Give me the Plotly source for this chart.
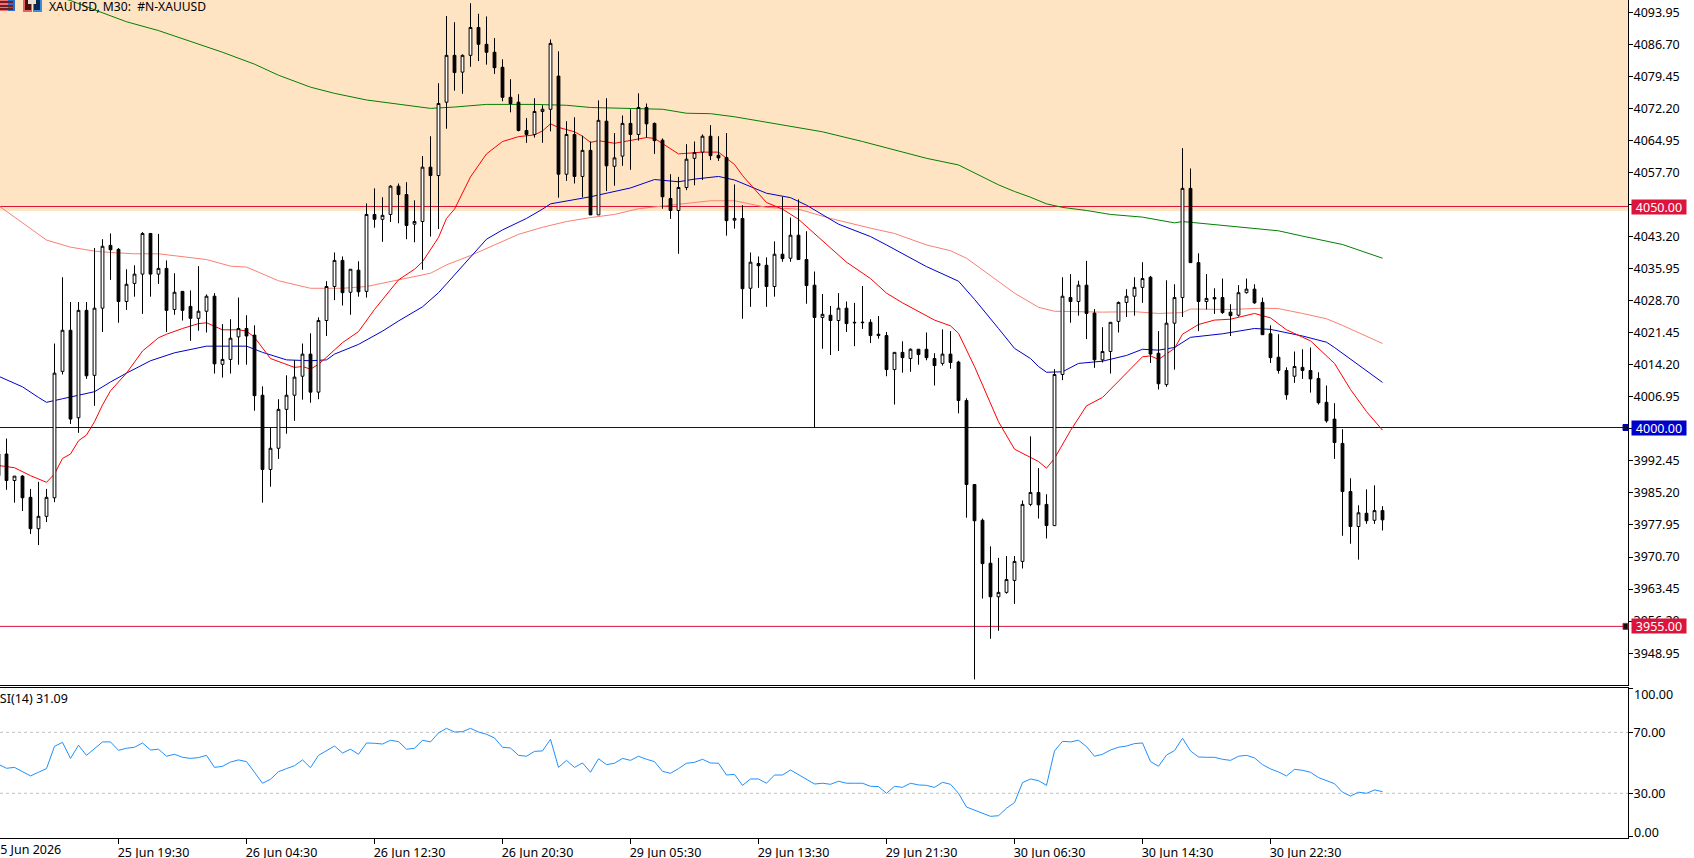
import plotly.graph_objects as go

# ---- XAUUSD M30 candles, one entry per bar starting at bar -1 ----
opens = [3994.0,3994.0,3988.0,3989.0,3984.2,3977.1,3979.9,3984.1,4012.7,4022.0,4002.2,4026.5,4011.8,4027.0,4041.2,4040.3,4028.5,4032.6,4034.7,4043.9,
4034.7,4036.0,4026.7,4030.8,4027.4,4024.7,4026.3,4029.7,4014.3,4015.4,4020.5,4022.4,4020.9,4007.3,3990.5,3995.3,4004.1,4007.3,4011.6,4016.6,
4008.0,4024.2,4031.9,4037.8,4030.6,4035.6,4030.8,4048.2,4047.1,4048.2,4054.6,4052.7,4046.0,4046.6,4058.9,4057.0,4073.6,4084.2,4080.4,4084.2,
4090.5,4086.7,4084.9,4081.5,4074.7,4073.6,4067.2,4066.3,4071.5,4072.0,4079.5,4057.3,4066.3,4056.8,4062.7,4048.1,4069.3,4059.1,4061.4,4068.8,
4066.3,4072.4,4068.8,4065.0,4051.8,4049.1,4054.3,4060.9,4062.3,4065.9,4061.6,4061.1,4046.9,4047.3,4031.5,4037.1,4036.7,4031.9,4039.2,4038.3,
4043.5,4038.0,4032.2,4024.9,4025.4,4024.2,4027.0,4023.8,4023.7,4023.8,4021.1,4020.8,4013.1,4017.0,4015.6,4017.7,4017.7,4015.6,4014.5,4016.6,
4014.8,4006.1,3987.1,3979.0,3969.3,3961.7,3962.7,3965.4,3969.7,3982.6,3985.3,3982.6,3977.8,4012.0,4029.4,4028.5,4032.2,4025.9,4015.3,4017.2,
4024.0,4028.3,4029.7,4031.7,4034.0,4016.8,4009.7,4023.6,4029.4,4054.1,4037.3,4028.5,4029.4,4029.4,4026.1,4025.4,4030.5,4031.3,4028.3,4021.2,
4015.9,4012.9,4011.6,4013.6,4012.9,4011.1,4005.7,4001.9,3996.4,3985.5,3977.6,3980.6,3979.0,3981.2]
highs = [3994.5,3997.5,3989.0,3989.2,3986.1,3987.7,3986.1,4019.0,4034.0,4028.4,4028.4,4028.4,4040.6,4042.6,4043.9,4040.6,4035.8,4036.7,4044.2,4043.9,
4043.8,4037.8,4034.9,4030.8,4031.0,4036.5,4030.1,4030.4,4023.4,4024.5,4029.4,4025.4,4023.1,4009.3,4000.0,4006.4,4011.8,4015.2,4019.0,4021.3,
4024.9,4033.1,4039.6,4038.7,4035.8,4037.6,4050.7,4054.1,4052.1,4054.8,4055.2,4055.5,4051.4,4061.4,4065.9,4077.9,4093.1,4091.7,4084.4,4096.0,
4093.6,4093.0,4088.1,4083.3,4078.8,4075.4,4070.0,4074.5,4072.9,4087.8,4085.1,4069.3,4070.2,4066.0,4064.7,4074.0,4074.5,4066.6,4070.6,4072.0,
4075.6,4073.3,4069.0,4065.4,4057.3,4056.7,4064.1,4064.7,4066.3,4068.4,4065.9,4066.6,4055.0,4050.3,4039.6,4038.7,4038.5,4042.1,4052.2,4047.5,
4051.6,4044.4,4035.3,4030.2,4027.5,4030.4,4028.5,4028.2,4032.0,4024.5,4025.2,4021.6,4017.0,4019.5,4017.9,4017.7,4021.5,4016.8,4022.2,4021.8,
4015.1,4006.6,3987.1,3979.4,3973.1,3970.5,3970.9,3970.9,3983.5,3998.0,3990.8,3984.9,4013.2,4034.0,4034.7,4033.2,4037.7,4026.8,4022.7,4023.8,
4028.5,4031.3,4034.0,4037.4,4034.3,4021.8,4033.3,4032.4,4063.2,4058.6,4039.4,4034.7,4031.5,4033.7,4027.9,4032.2,4033.7,4032.4,4029.4,4023.1,
4021.1,4013.6,4017.2,4017.7,4018.1,4012.5,4009.5,4005.5,3999.6,3988.5,3982.4,3986.0,3986.9,3982.2]
lows = [3988.5,3985.9,3983.0,3981.1,3975.9,3973.4,3978.6,3983.1,4012.0,4000.8,3998.8,4011.0,4004.9,4021.6,4033.4,4023.7,4026.6,4029.6,4025.7,4029.6,
4032.5,4021.6,4025.5,4024.2,4019.6,4021.9,4021.5,4012.2,4011.3,4012.2,4014.2,4014.2,4003.8,3983.0,3986.6,3992.9,3998.6,4001.5,4006.3,4005.6,
4006.4,4020.7,4028.8,4027.6,4025.5,4029.6,4029.4,4045.2,4042.0,4046.5,4046.2,4042.6,4041.9,4035.7,4043.2,4044.9,4067.6,4076.2,4075.5,4081.6,
4082.9,4082.1,4080.0,4073.8,4071.3,4067.0,4064.4,4065.6,4064.4,4067.0,4052.0,4055.8,4055.2,4052.1,4048.1,4048.1,4053.5,4054.7,4059.2,4058.3,
4064.9,4065.6,4061.9,4049.5,4047.2,4039.3,4053.7,4054.8,4056.0,4060.5,4060.3,4043.4,4045.0,4024.6,4027.3,4031.6,4027.3,4029.6,4037.5,4037.5,
4038.0,4028.0,4000.0,4017.8,4016.4,4017.3,4021.6,4018.4,4022.3,4019.1,4020.1,4011.6,4005.2,4012.4,4012.6,4014.2,4015.2,4009.5,4014.0,4013.3,
4003.2,3979.6,3943.0,3961.3,3952.2,3954.0,3962.4,3960.1,3968.1,3982.2,3979.4,3974.9,3977.8,4010.7,4023.7,4025.3,4020.0,4013.5,4014.7,4012.2,
4021.5,4025.0,4025.3,4028.2,4014.6,4008.6,4009.2,4013.1,4025.0,4037.3,4021.8,4026.7,4025.7,4025.7,4020.7,4025.1,4030.3,4028.0,4021.0,4014.6,
4012.2,4006.3,4010.1,4011.0,4007.9,4005.2,4001.1,3992.9,3975.5,3973.7,3970.1,3978.2,3978.2,3976.7]
closes = [3989.1,3988.0,3989.0,3984.1,3977.1,3979.9,3984.2,4012.3,4022.0,4001.9,4026.5,4011.7,4027.0,4041.0,4040.2,4028.5,4032.4,4034.7,4043.9,4034.7,
4036.0,4026.5,4030.6,4026.5,4024.7,4026.3,4029.7,4014.4,4015.4,4020.2,4022.4,4020.7,4007.2,3990.5,3995.3,4004.1,4007.3,4011.4,4016.6,4008.0,
4024.2,4031.9,4037.8,4030.5,4035.8,4030.7,4048.2,4047.1,4048.0,4054.6,4052.7,4045.7,4046.6,4058.9,4057.0,4073.3,4084.2,4080.3,4084.2,4090.5,
4086.7,4084.9,4081.4,4074.7,4073.3,4067.2,4066.3,4071.5,4072.0,4086.9,4057.3,4066.3,4056.8,4062.7,4048.1,4069.5,4059.2,4061.0,4068.8,4066.3,
4072.4,4068.7,4064.9,4052.2,4049.1,4054.3,4060.7,4062.2,4065.9,4061.5,4061.0,4046.8,4047.3,4031.4,4037.4,4036.6,4031.9,4039.2,4038.2,4043.5,
4038.0,4032.1,4024.9,4025.6,4024.2,4027.0,4023.5,4023.7,4023.8,4020.8,4020.8,4013.1,4017.0,4015.8,4017.7,4016.5,4015.8,4014.0,4016.6,4014.7,
4006.1,3987.1,3978.9,3969.2,3961.7,3962.7,3965.6,3969.7,3982.6,3985.3,3982.5,3977.8,4012.0,4029.7,4028.5,4032.2,4025.8,4015.3,4017.2,4023.8,
4028.3,4029.7,4031.7,4033.7,4016.6,4009.9,4023.6,4029.4,4054.1,4037.3,4028.5,4029.2,4029.1,4026.0,4025.3,4030.5,4031.3,4028.2,4021.0,4015.8,
4012.9,4007.4,4013.8,4012.9,4011.0,4005.6,4001.5,3996.6,3985.5,3977.6,3980.7,3978.9,3981.2,3979.1]
bars = list(range(-1, len(opens) - 1))

# ---- moving averages, sampled at selected bars ----
ma20_bars = [-1,1,3,5,6,7,8,9,10,11,12,13,15,17,19,20,22,24,25,27,29,30,31,32,33,36,37,38,39,40,42,44,46,49,51,52,53,54,55,56,58,60,62,64,66,67,68,69,71,72,73,74,76,78,80,81,83,84,87,89,91,92,95,97,99,102,105,108,110,112,116,118,119,121,122,123,124,126,128,129,130,131,133,135,137,138,139,142,143,144,146,147,149,151,153,156,158,160,163,166,168,170,172]
ma20 = [3991.4,3990.9,3989.1,3987.6,3989.5,3993.0,3994.0,3997.0,3998.3,4001.3,4005.1,4008.3,4012.3,4017.3,4020.3,4021.1,4022.4,4023.5,4023.7,4022.1,4022.1,4021.8,4020.4,4018.1,4015.6,4013.6,4013.8,4013.2,4014.3,4015.9,4019.2,4021.7,4026.7,4033.4,4035.8,4037.5,4040.2,4043.0,4047.3,4049.4,4056.7,4061.9,4064.7,4065.8,4066.2,4067.1,4068.7,4067.9,4066.9,4065.9,4064.5,4064.9,4064.3,4064.9,4065.6,4065.4,4063.2,4061.9,4062.3,4062.3,4059.5,4057.0,4050.9,4049.4,4047.1,4042.3,4037.4,4033.7,4030.4,4028.2,4024.3,4023.0,4021.3,4013.8,4009.6,4005.1,4001.3,3995.1,3993.2,3992.3,3990.8,3993.0,3999.3,4004.9,4006.8,4008.6,4010.4,4016.0,4016.2,4015.4,4017.9,4021.1,4023.3,4024.3,4024.5,4025.8,4024.8,4022.1,4019.6,4014.5,4008.6,4003.6,3999.4]

ma50_bars = [-1,2,4,5,7,9,11,13,15,18,21,25,30,32,35,38,40,41,44,47,49,52,54,55,57,60,62,65,67,68,73,78,81,84,86,89,91,95,98,100,104,108,110,115,119,121,124,126,128,129,130,132,134,137,140,142,144,146,148,152,156,158,162,165,166,169,172]
ma50 = [4011.6,4009.2,4006.8,4005.7,4006.5,4007.3,4008.1,4010.3,4012.3,4015.1,4016.9,4018.4,4018.4,4017.0,4015.3,4015.1,4015.3,4016.6,4018.8,4021.8,4024.1,4027.3,4030.5,4032.5,4036.6,4042.6,4044.7,4047.3,4049.4,4050.6,4052.2,4054.2,4056.1,4055.6,4056.2,4056.8,4056.0,4053.0,4052.0,4050.3,4046.0,4043.2,4041.3,4036.4,4033.1,4029.0,4022.4,4017.9,4015.6,4013.8,4012.5,4012.6,4014.5,4015.0,4016.3,4017.7,4017.5,4018.1,4020.4,4021.2,4022.4,4022.2,4020.7,4019.3,4018.1,4014.1,4010.2]

ma100_bars = [-1,2,5,8,11,13,16,19,22,25,28,30,34,38,42,45,49,53,55,58,61,64,67,70,73,76,79,82,85,88,91,95,99,103,108,111,115,118,120,123,126,129,131,137,141,144,147,148,153,157,159,162,165,167,172]
ma100 = [4050.2,4046.3,4042.4,4040.8,4039.9,4039.6,4039.3,4039.3,4038.6,4038.0,4036.5,4036.3,4033.2,4031.5,4031.5,4031.9,4033.4,4034.9,4036.8,4038.9,4041.3,4043.7,4045.3,4046.6,4047.5,4048.2,4049.5,4050.1,4050.7,4051.3,4051.3,4049.8,4049.4,4047.3,4045.1,4043.9,4041.3,4040.0,4038.3,4034.3,4030.4,4027.2,4026.3,4026.1,4026.2,4025.8,4026.0,4026.8,4026.7,4027.0,4026.9,4025.8,4024.6,4023.1,4019.0]

ma200_bars = [7,8,11,15,19,24,27,31,34,38,41,45,49,53,56,60,66,70,73,78,82,85,88,91,95,98,102,107,111,115,119,121,124,126,128,130,132,135,138,142,146,147,152,155,159,162,167,172]
ma200 = [4097.1,4096.6,4094.5,4091.8,4089.8,4086.8,4084.9,4082.2,4079.7,4077.0,4075.6,4074.1,4073.2,4072.2,4072.5,4073.1,4073.1,4072.9,4072.4,4072.1,4072.0,4071.1,4071.0,4070.3,4069.1,4068.1,4066.9,4064.7,4062.8,4060.9,4059.4,4057.6,4054.9,4053.4,4052.1,4050.6,4049.8,4049.1,4048.2,4047.6,4046.3,4046.6,4045.7,4045.3,4044.5,4043.3,4041.4,4038.3]

# ---- RSI(14), one value per bar ----
rsi = [49.0,46.4,47.0,44.2,41.4,43.8,46.2,60.8,63.4,52.9,61.5,54.9,59.3,63.7,63.7,58.2,59.5,60.2,63.0,58.4,
58.9,54.3,55.6,53.6,52.9,53.4,54.9,47.0,47.7,50.5,51.9,50.8,43.8,36.6,39.2,44.2,46.2,48.1,51.9,46.8,
54.9,58.0,61.0,56.4,58.9,55.6,63.0,62.8,62.3,64.8,63.9,58.9,59.5,64.8,63.7,69.6,72.6,70.2,70.4,72.6,
70.2,68.7,66.3,60.2,59.7,54.9,54.3,57.5,57.8,65.4,47.0,51.6,47.0,49.9,43.8,52.7,48.8,49.7,52.9,51.6,
54.3,52.3,50.8,44.4,43.1,46.2,49.7,50.3,52.3,49.9,49.7,42.0,42.4,35.2,39.4,39.4,36.6,42.0,42.0,45.3,
42.4,39.4,36.1,36.6,35.9,37.9,36.6,36.6,36.6,34.6,34.4,30.0,34.6,33.9,36.6,35.5,35.2,33.9,37.2,35.9,
30.0,21.0,19.1,16.9,14.9,15.3,20.2,23.9,37.0,39.4,38.3,35.2,57.8,64.1,63.7,64.8,60.6,54.3,55.6,58.4,
60.2,61.0,62.6,63.0,50.8,47.7,55.1,58.0,66.1,57.8,53.8,53.6,53.6,52.3,51.6,54.3,54.9,53.2,48.8,46.0,
44.0,41.4,45.7,45.1,43.8,40.3,38.3,36.3,30.7,28.2,30.7,30.0,32.2,31.09]

# ---- axis labels and levels ----
time_tick_bars = [14,30,46,62,78,94,110,126,142,158]
time_tick_labels = ["25 Jun 19:30","26 Jun 04:30","26 Jun 12:30","26 Jun 20:30","29 Jun 05:30",
                    "29 Jun 13:30","29 Jun 21:30","30 Jun 06:30","30 Jun 14:30","30 Jun 22:30"]
first_time_label = "25 Jun 2026"
price_tick_start = 3948.95
price_tick_step = 7.25
upper_level = 4050.0
middle_level = 4000.0
lower_level = 3955.0
zone_floor = 4049.0
price_range = [3941.74, 4096.72]
rsi_range = [0.69, 99.05]
rsi_levels = [70, 30]

WIDTH, HEIGHT = 1694, 858
PLOT_W = 1628          # plot area ends at the right-hand price axis
PLOT_H = 838           # plot area ends at the time axis
PANEL_SPLIT_TOP = 685
PANEL_SPLIT_BOTTOM = 688
FONT = "Noto Sans"
FONT_SIZE = 12.5


def px(value):
    return value / PLOT_W


def py(value):
    return (PLOT_H - value) / PLOT_H


fig = go.Figure()

line_specs = [
    (ma200_bars, ma200, "#008000"),
    (ma100_bars, ma100, "#FA8072"),
    (ma50_bars, ma50, "#0000CD"),
    (ma20_bars, ma20, "#FF0000"),
]
for x_vals, y_vals, colour in line_specs:
    fig.add_trace(go.Scatter(x=x_vals, y=y_vals, mode="lines", xaxis="x", yaxis="y",
                             line=dict(color=colour, width=1), hoverinfo="skip", showlegend=False))

# candles sit on an overlaid axis so their bodies paint over the averages
fig.add_trace(go.Candlestick(
    x=bars, open=opens, high=highs, low=lows, close=closes, xaxis="x", yaxis="y3",
    whiskerwidth=0, showlegend=False,
    increasing=dict(line=dict(color="#000000", width=1), fillcolor="#FFFFFF"),
    decreasing=dict(line=dict(color="#000000", width=1), fillcolor="#000000"),
))

fig.add_trace(go.Scatter(x=bars, y=rsi, mode="lines", xaxis="x2", yaxis="y2",
                         line=dict(color="#1E90FF", width=1), hoverinfo="skip", showlegend=False))

shapes = [
    dict(type="rect", xref="paper", yref="y", x0=0, x1=1, y0=zone_floor, y1=price_range[1],
         fillcolor="#FFE4C4", line_width=0, layer="below"),
    dict(type="line", xref="paper", yref="y", x0=0, x1=1, y0=upper_level, y1=upper_level,
         line=dict(color="#DC143C", width=1), layer="below"),
    dict(type="line", xref="paper", yref="y", x0=0, x1=1, y0=middle_level, y1=middle_level,
         line=dict(color="#0000CD", width=1), layer="below"),
    dict(type="line", xref="paper", yref="y", x0=0, x1=1, y0=lower_level, y1=lower_level,
         line=dict(color="#DC143C", width=1), layer="below"),
]

for level in rsi_levels:
    shapes.append(dict(type="line", xref="paper", yref="y2", x0=0, x1=1, y0=level, y1=level,
                       line=dict(color="#C0C0C0", width=1, dash="3px,3px"), layer="below"))

# drag handles of the two selected levels
for level, fill, edge in [(middle_level, "#101030", "#0000CD"), (lower_level, "#101010", "#DC143C")]:
    shapes.append(dict(type="rect", xref="paper", yref="y", xsizemode="pixel", ysizemode="pixel",
                       xanchor=1, yanchor=level, x0=-5, x1=0, y0=-3, y1=3,
                       fillcolor=fill, line=dict(color=edge, width=1)))

# the two chart-window icons in the top-left corner
icon_rects = [
    (0, 8, 0, 11, "#F07070"), (8, 15, 0, 11, "#2A6FD0"),
    (0, 13, 1, 3, "#702020"), (0, 13, 5, 7, "#702020"), (0, 13, 8, 10, "#702020"),
    (23, 32, 0, 12, "#E86060"), (25, 31, 0, 10, "#4A1010"),
    (33, 42, 0, 12, "#3A8AE0"), (34, 40, 0, 10, "#0A2A50"),
    (28, 36, 0, 4, "#E8E0D8"),
]
for x0, x1, y0, y1, colour in icon_rects:
    shapes.append(dict(type="rect", xref="paper", yref="paper", x0=px(x0), x1=px(x1),
                       y0=py(y1), y1=py(y0), fillcolor=colour, line_width=0))

text_font = dict(family=FONT, size=FONT_SIZE, color="#000000")
annotations = [
    dict(text="XAUUSD, M30:  #N-XAUUSD", xref="paper", yref="paper", x=px(47), y=py(6),
         xanchor="left", yanchor="middle", showarrow=False,
         font=dict(family=FONT, size=12.1, color="#000000")),
    dict(text="RSI(14) 31.09", xref="paper", yref="paper", x=px(-10), y=py(698),
         xanchor="left", yanchor="middle", showarrow=False, font=text_font),
    dict(text=first_time_label, xref="paper", yref="paper", x=px(-9), y=py(849),
         xanchor="left", yanchor="middle", showarrow=False, font=text_font),
    dict(text="100.00", xref="paper", yref="paper", x=px(1632), y=py(694),
         xanchor="left", yanchor="middle", showarrow=False, font=text_font),
    dict(text="0.00", xref="paper", yref="paper", x=px(1632), y=py(832),
         xanchor="left", yanchor="middle", showarrow=False, font=text_font),
]
for level, colour in [(upper_level, "#DC143C"), (middle_level, "#0000CD"), (lower_level, "#DC143C")]:
    annotations.append(dict(
        text=f"{level:.2f}", xref="paper", yref="y", x=px(1631), y=level,
        xanchor="left", yanchor="middle", showarrow=False, bgcolor=colour,
        width=54, height=14, borderpad=0, align="center",
        font=dict(family=FONT, size=FONT_SIZE, color="#FFFFFF"),
    ))

axis_common = dict(showgrid=False, zeroline=False, linecolor="#000000", linewidth=1)
split = (PLOT_H - PANEL_SPLIT_TOP) / PLOT_H
split2 = (PLOT_H - PANEL_SPLIT_BOTTOM) / PLOT_H
x_range = [-6.5 / 8, (PLOT_W - 6.5) / 8]

fig.update_layout(
    width=WIDTH, height=HEIGHT,
    margin=dict(l=0, r=WIDTH - PLOT_W, t=0, b=HEIGHT - PLOT_H, pad=0),
    paper_bgcolor="#FFFFFF", plot_bgcolor="#FFFFFF",
    showlegend=False, boxgap=0.5, hovermode=False,
    font=text_font,
    shapes=shapes, annotations=annotations,
    xaxis=dict(axis_common, domain=[0, 1], range=x_range, anchor="y", matches="x2",
               showline=True, showticklabels=False, ticks="", rangeslider=dict(visible=False)),
    xaxis2=dict(axis_common, domain=[0, 1], range=x_range, anchor="y2", showline=True, mirror=True,
                tickmode="array", tickvals=time_tick_bars, ticktext=time_tick_labels,
                ticks="outside", ticklen=5, tickcolor="#000000", tickwidth=1,
                ticklabelshift=35, ticklabelstandoff=-2, tickfont=text_font, automargin=False),
    yaxis=dict(axis_common, domain=[split, 1], range=price_range, anchor="x", side="right",
               showline=True, tick0=price_tick_start, dtick=price_tick_step, tickformat=".2f",
               ticks="outside", ticklen=4, tickcolor="#000000", tickwidth=1,
               ticklabelstandoff=-2, tickfont=text_font, automargin=False),
    yaxis2=dict(axis_common, domain=[0, split2], range=rsi_range, anchor="x2", side="right",
                showline=True, tickmode="array", tickvals=[98.5, 70, 30, 1.5],
                ticktext=["", "70.00", "30.00", ""], ticks="outside", ticklen=4,
                tickcolor="#000000", tickwidth=1, ticklabelstandoff=-2,
                tickfont=text_font, automargin=False),
    yaxis3=dict(range=price_range, overlaying="y", side="right", visible=False, anchor="x"),
)

fig.write_html("out.html", config=dict(displayModeBar=False))
